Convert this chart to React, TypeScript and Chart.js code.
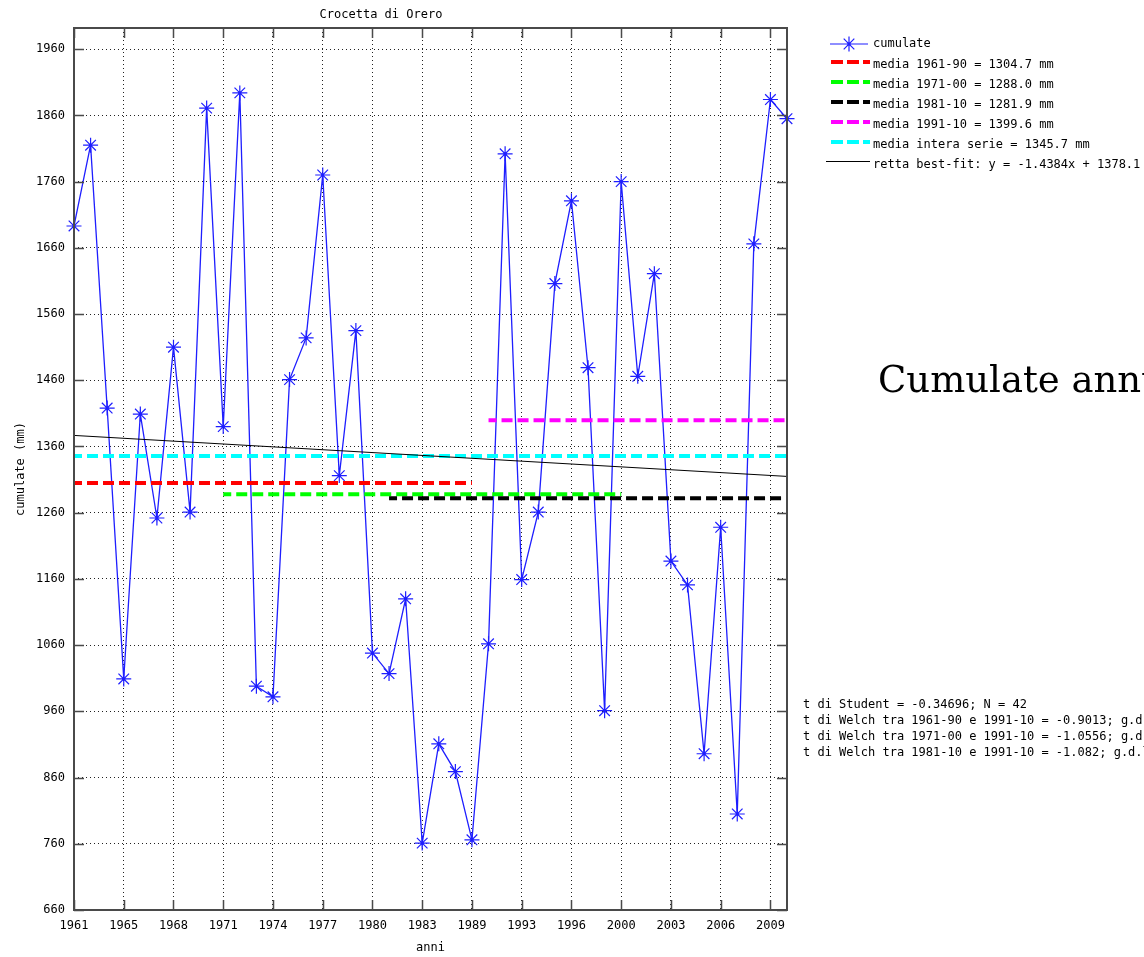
import React, { useEffect, useRef } from 'react';
import { Chart, registerables } from 'chart.js';

Chart.register(...registerables);

const W = 1144;
const H = 957;

// annual cumulated precipitation (mm), one value per available year
const cumulate = [
  1693, 1815, 1418, 1009, 1409, 1252, 1510, 1261, 1871, 1390, 1894, 998, 982, 1461, 1524,
  1770, 1316, 1535, 1048, 1017, 1130, 761, 911, 869, 766, 1062, 1802, 1159, 1261, 1606,
  1731, 1479, 961, 1760, 1466, 1621, 1187, 1151, 896, 1238, 805, 1666, 1884, 1855,
];

const xTickIdx = [0, 3, 6, 9, 12, 15, 18, 21, 24, 27, 30, 33, 36, 39, 42];
const xTickLabels = ['1961', '1965', '1968', '1971', '1974', '1977', '1980', '1983', '1989', '1993', '1996', '2000', '2003', '2006', '2009'];
const yTicks = [660, 760, 860, 960, 1060, 1160, 1260, 1360, 1460, 1560, 1660, 1760, 1860, 1960];

const meanLabels = [
  'media 1961-90 = 1304.7 mm',
  'media 1971-00 = 1288.0 mm',
  'media 1981-10 = 1281.9 mm',
  'media 1991-10 = 1399.6 mm',
  'media intera serie = 1345.7 mm',
];
const meanValues = [1304.7, 1288.0, 1281.9, 1399.6, 1345.7];
const meanStart = [0, 9, 19, 25, 0];
const meanEnd = [24, 33, 43, 43, 43];
const meanColors = ['#ff0000', '#00ff00', '#000000', '#ff00ff', '#00ffff'];

const fitLabel = 'retta best-fit: y = -1.4384x + 1378.1';
const fitEnds = [1376.7, 1314.8];

const statsLines = [
  't di Student = -0.34696; N = 42',
  't di Welch tra 1961-90 e 1991-10 = -0.9013; g.d.l.',
  't di Welch tra 1971-00 e 1991-10 = -1.0556; g.d.l.',
  't di Welch tra 1981-10 e 1991-10 = -1.082; g.d.l.',
];

const FONT = '"DejaVu Sans Mono", "Liberation Mono", monospace';
const BLUE = 'rgb(30,30,255)';

export default function App() {
  const ref = useRef<HTMLCanvasElement>(null);

  useEffect(() => {
    const canvas = ref.current;
    if (!canvas) return;

    const overlay = {
      id: 'overlay',
      afterDraw(chart: any) {
        const { ctx, chartArea } = chart;
        const { left, right, top, bottom } = chartArea;
        const xs = chart.scales.x;
        const ys = chart.scales.y;
        ctx.save();

        // center dots of markers
        const meta = chart.getDatasetMeta(0);
        ctx.fillStyle = BLUE;
        meta.data.forEach((p: any) => {
          ctx.beginPath();
          ctx.arc(p.x, p.y, 1.5, 0, Math.PI * 2);
          ctx.fill();
        });

        // frame
        ctx.setLineDash([]);
        ctx.strokeStyle = '#4a4a4a';
        ctx.lineWidth = 2;
        ctx.strokeRect(Math.round(left), Math.round(top), Math.round(right - left), Math.round(bottom - top));

        // inward ticks
        ctx.lineWidth = 1.5;
        ctx.beginPath();
        xTickIdx.forEach((v) => {
          const px = Math.round(xs.getPixelForValue(v)) + 0.5;
          ctx.moveTo(px, bottom);
          ctx.lineTo(px, bottom - 10);
          ctx.moveTo(px, top);
          ctx.lineTo(px, top + 10);
        });
        yTicks.forEach((v) => {
          const py = Math.round(ys.getPixelForValue(v)) + 0.5;
          ctx.moveTo(left, py);
          ctx.lineTo(left + 10, py);
          ctx.moveTo(right, py);
          ctx.lineTo(right - 10, py);
        });
        ctx.stroke();

        // title
        ctx.fillStyle = '#000';
        ctx.font = `12px ${FONT}`;
        ctx.textAlign = 'center';
        ctx.textBaseline = 'middle';
        ctx.fillText('Crocetta di Orero', 381, 15);

        // legend
        ctx.textAlign = 'left';
        const rowY = (i: number) => 44 + 20 * i;
        // cumulate
        ctx.strokeStyle = BLUE;
        ctx.lineWidth = 1.2;
        ctx.beginPath();
        ctx.moveTo(830, rowY(0));
        ctx.lineTo(868, rowY(0));
        const cx = 849;
        const cy = rowY(0);
        const r = 7.5;
        ctx.moveTo(cx - r, cy);
        ctx.lineTo(cx + r, cy);
        ctx.moveTo(cx, cy - r);
        ctx.lineTo(cx, cy + r);
        const d = r * Math.SQRT1_2;
        ctx.moveTo(cx - d, cy - d);
        ctx.lineTo(cx + d, cy + d);
        ctx.moveTo(cx - d, cy + d);
        ctx.lineTo(cx + d, cy - d);
        ctx.stroke();
        ctx.fillStyle = BLUE;
        ctx.beginPath();
        ctx.arc(cx, cy, 1.5, 0, Math.PI * 2);
        ctx.fill();
        ctx.fillStyle = '#000';
        ctx.fillText('cumulate', 873, rowY(0));

        meanLabels.forEach((lab, i) => {
          const y = rowY(i + 1);
          ctx.strokeStyle = meanColors[i];
          ctx.lineWidth = 4;
          ctx.setLineDash([12, 4]);
          ctx.beginPath();
          ctx.moveTo(831, y - 2);
          ctx.lineTo(870, y - 2);
          ctx.stroke();
          ctx.setLineDash([]);
          ctx.fillStyle = '#000';
          ctx.fillText(lab, 873, y + 1);
        });

        ctx.strokeStyle = '#000';
        ctx.lineWidth = 1;
        ctx.beginPath();
        ctx.moveTo(826, rowY(6) - 2.5);
        ctx.lineTo(870, rowY(6) - 2.5);
        ctx.stroke();
        ctx.fillText(fitLabel, 873, rowY(6) + 1);

        // statistics
        statsLines.forEach((t, i) => {
          ctx.fillText(t, 803, 705 + i * 15.8);
        });

        ctx.restore();
      },
    };

    const datasets: any[] = [
      {
        label: 'cumulate',
        data: cumulate.map((v, i) => ({ x: i, y: v })),
        borderColor: BLUE,
        borderWidth: 1.3,
        pointStyle: 'star',
        pointRadius: 7.5,
        pointBorderColor: BLUE,
        pointBorderWidth: 1.2,
        pointBackgroundColor: BLUE,
        clip: false,
        order: 10,
      },
      ...meanValues.map((v, i) => ({
        label: meanLabels[i],
        data: [
          { x: meanStart[i], y: v },
          { x: meanEnd[i], y: v },
        ],
        borderColor: meanColors[i],
        borderWidth: 4,
        borderDash: [11, 5],
        borderDashOffset: 3,
        pointRadius: 0,
        order: 5 - i,
      })),
      {
        label: fitLabel,
        data: [
          { x: 0, y: fitEnds[0] },
          { x: cumulate.length - 1, y: fitEnds[1] },
        ],
        borderColor: '#000',
        borderWidth: 1,
        pointRadius: 0,
        order: 0,
      },
    ];

    const tickFont = { family: FONT, size: 12 };

    const chart = new Chart(canvas, {
      type: 'line',
      data: { datasets },
      options: {
        responsive: false,
        animation: false,
        devicePixelRatio: 1,
        layout: { padding: { left: 0, top: 28, right: W - 787, bottom: 0 } },
        plugins: {
          legend: { display: false },
          tooltip: { enabled: false },
          title: { display: false },
        },
        scales: {
          x: {
            type: 'linear',
            min: 0,
            max: cumulate.length - 1,
            afterBuildTicks: (s: any) => {
              s.ticks = xTickIdx.map((v) => ({ value: v }));
            },
            afterFit: (s: any) => {
              s.height = H - 910;
            },
            grid: { color: '#222', lineWidth: 1, drawTicks: false },
            border: { display: false, dash: [1, 3] },
            ticks: {
              padding: 9,
              color: '#000',
              font: tickFont,
              autoSkip: false,
              maxRotation: 0,
              callback: (_v: any, idx: number) => xTickLabels[idx],
            },
            title: {
              display: true,
              text: 'anni',
              color: '#000',
              font: tickFont,
              padding: { top: 0, bottom: 2 },
            },
          },
          y: {
            type: 'linear',
            min: 660,
            max: 1992,
            afterBuildTicks: (s: any) => {
              s.ticks = yTicks.map((v) => ({ value: v }));
            },
            afterFit: (s: any) => {
              s.width = 74;
            },
            grid: { color: '#222', lineWidth: 1, drawTicks: false },
            border: { display: false, dash: [1, 3] },
            ticks: {
              padding: 9,
              color: '#000',
              font: tickFont,
              callback: (v: any) => String(v),
            },
            title: {
              display: true,
              text: 'cumulate (mm)',
              color: '#000',
              font: tickFont,
              padding: { top: 14, bottom: 0 },
            },
          },
        },
      } as any,
      plugins: [overlay],
    });

    return () => chart.destroy();
  }, []);

  return (
    <div
      style={{
        position: 'fixed',
        left: 0,
        top: 0,
        width: W,
        height: H,
        overflow: 'hidden',
        background: '#fff',
      }}
    >
      <canvas
        ref={ref}
        width={W}
        height={H}
        style={{ position: 'absolute', left: 0, top: 0, width: W, height: H }}
      />
      <div
        style={{
          position: 'absolute',
          left: 878,
          top: 361,
          fontFamily: '"DejaVu Serif", serif',
          fontSize: 37,
          lineHeight: '37px',
          whiteSpace: 'nowrap',
          color: '#000',
        }}
      >
        Cumulate annue
      </div>
    </div>
  );
}
